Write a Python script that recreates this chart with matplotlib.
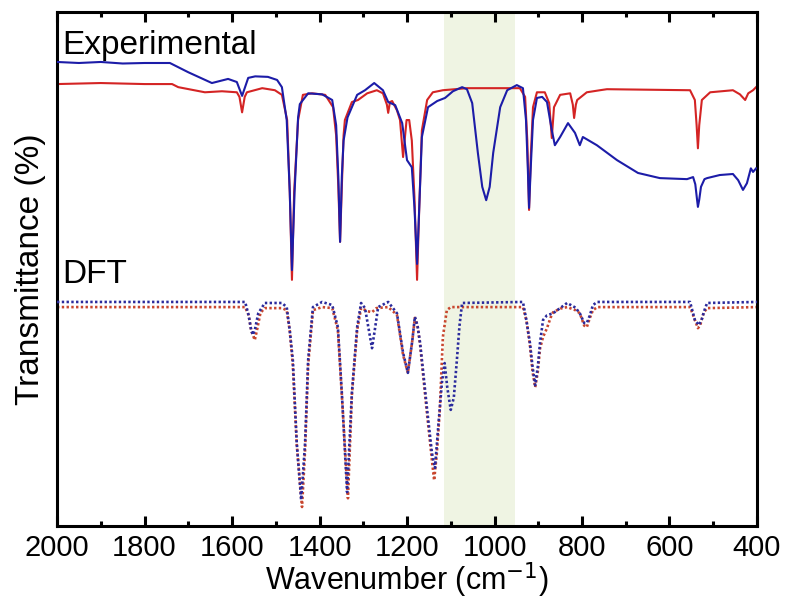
import matplotlib.pyplot as plt
from matplotlib.ticker import MultipleLocator
from matplotlib import font_manager

# experimental spectra (wavenumber, transmittance in arbitrary %)
exp_blue_wn = [2000, 1950, 1900, 1850, 1800, 1742, 1700, 1646, 1609, 1589, 1577, 1563, 1547, 1518, 1497,
               1486, 1475, 1468, 1463, 1457, 1449, 1445, 1426, 1394, 1371, 1362, 1357, 1353, 1349, 1345,
               1336, 1326, 1314, 1296, 1275, 1255, 1243, 1227, 1211, 1200, 1189, 1183, 1177, 1172, 1166,
               1152, 1131, 1113, 1095, 1074, 1063, 1051, 1038, 1028, 1019, 1011, 1003, 987, 971, 949,
               935, 928, 924, 921, 917, 912, 903, 891, 880, 869, 862, 850, 832, 816, 805, 798, 766, 720,
               672, 622, 560, 546, 541, 537, 535, 532, 528, 520, 514, 485, 455, 443, 432, 423, 414, 409, 402]
exp_blue_t = [90.3, 90.1, 90.3, 90.0, 90.1, 90.1, 88.3, 86.2, 87.0, 86.4, 83.7, 87.2, 87.5, 87.4, 86.8,
              85.4, 79.0, 65.0, 49.8, 65.0, 79.5, 82.1, 84.2, 84.0, 82.9, 78.0, 68.0, 55.3, 68.0, 75.0,
              79.5, 81.5, 83.9, 84.8, 86.2, 84.8, 82.5, 81.9, 78.4, 71.2, 69.8, 62.0, 51.0, 62.0, 75.7,
              81.5, 82.7, 83.3, 84.6, 85.4, 85.0, 82.3, 72.6, 66.0, 63.4, 66.0, 72.6, 81.5, 84.8, 85.8,
              85.2, 79.0, 70.0, 61.9, 70.0, 79.0, 83.3, 83.5, 82.5, 77.0, 74.1, 75.7, 78.4, 76.5, 74.1,
              75.7, 74.1, 71.2, 68.7, 67.7, 67.5, 67.9, 66.5, 63.5, 62.1, 63.5, 66.0, 67.5, 67.7, 68.3,
              68.5, 67.3, 65.4, 66.7, 69.6, 68.9, 69.6]

exp_red_wn = [2000, 1900, 1800, 1737, 1723, 1662, 1623, 1589, 1583, 1577, 1571, 1566, 1531, 1502, 1486,
              1474, 1468, 1463, 1458, 1449, 1438, 1417, 1387, 1369, 1362, 1357, 1353, 1349, 1345, 1342,
              1326, 1312, 1291, 1269, 1255, 1246, 1243, 1239, 1234, 1223, 1216, 1209, 1201, 1195, 1189,
              1183, 1177, 1172, 1166, 1154, 1141, 1118, 1063, 942, 930, 925, 921, 917, 912, 903, 885,
              875, 869, 864, 850, 827, 821, 818, 814, 811, 789, 759, 743, 553, 542, 538, 535, 532, 526,
              507, 455, 439, 427, 420, 409, 402]
exp_red_t = [86.0, 86.2, 86.0, 86.0, 85.4, 84.4, 84.6, 84.4, 83.5, 80.5, 83.5, 84.4, 85.2, 84.8, 83.9,
             79.0, 65.0, 47.9, 65.0, 79.0, 83.9, 84.2, 83.9, 81.5, 76.0, 66.0, 55.3, 66.0, 76.0, 79.0,
             82.5, 82.9, 84.2, 84.8, 84.2, 82.0, 80.4, 82.5, 82.7, 80.9, 79.0, 71.8, 79.0, 79.0, 75.0,
             64.0, 47.9, 62.0, 77.0, 82.9, 84.4, 84.8, 85.2, 85.2, 83.5, 75.0, 61.5, 72.0, 81.5, 84.4, 84.4,
             82.3, 75.5, 81.5, 83.9, 84.2, 82.0, 79.4, 82.0, 82.9, 84.4, 84.8, 85.0, 84.8, 82.9, 78.0, 73.5,
             78.0, 82.9, 84.4, 84.8, 84.0, 82.9, 84.2, 84.8, 85.4]

# DFT spectra
dft_blue_wn = [2000, 1570, 1562, 1556, 1552, 1547, 1540, 1525, 1486, 1475, 1468, 1461, 1452, 1442, 1433,
               1426, 1415, 1394, 1371, 1358, 1349, 1337, 1326, 1314, 1305, 1296, 1288, 1280, 1273, 1266,
               1243, 1223, 1209, 1198, 1188, 1182, 1176, 1170, 1154, 1143, 1136, 1128, 1120, 1114, 1108,
               1100, 1093, 1086, 1080, 1074, 935, 927, 919, 913, 907, 901, 896, 889, 880, 866, 834, 815,
               805, 795, 789, 782, 775, 765, 553, 548, 542, 533, 527, 520, 514, 400]
dft_blue_t = [43.6, 43.6, 41.0, 38.0, 37.2, 38.5, 41.4, 43.4, 43.4, 42.6, 38.0, 32.3, 16.1, 5.1, 16.1,
              32.3, 42.6, 43.6, 43.0, 38.7, 25.9, 6.6, 25.9, 38.7, 43.4, 42.4, 38.5, 34.6, 38.5, 42.6,
              43.6, 41.4, 33.7, 29.8, 36.0, 40.7, 39.0, 35.6, 22.6, 14.2, 11.3, 20.0, 28.0, 31.7, 27.0,
              22.6, 25.0, 32.3, 39.0, 43.4, 43.6, 40.0, 35.6, 31.0, 27.4, 31.0, 35.6, 40.1, 41.0, 41.4,
              43.4, 42.5, 41.4, 39.5, 39.5, 41.0, 43.0, 43.6, 43.6, 42.0, 40.1, 39.1, 40.0, 42.0, 43.4, 43.6]

dft_red_wn = [2000, 1570, 1562, 1556, 1548, 1542, 1535, 1525, 1486, 1475, 1468, 1461, 1452, 1440, 1433,
              1426, 1415, 1394, 1371, 1358, 1349, 1335, 1326, 1314, 1305, 1290, 1280, 1270, 1243, 1223,
              1209, 1198, 1188, 1182, 1176, 1170, 1154, 1143, 1138, 1132, 1125, 1118, 1109, 1100, 935,
              927, 919, 913, 907, 901, 896, 889, 880, 872, 866, 850, 834, 815, 805, 795, 789, 782, 775,
              765, 553, 548, 542, 535, 530, 522, 514, 400]
dft_red_t = [42.6, 42.6, 41.0, 38.0, 36.2, 38.5, 41.5, 42.4, 42.4, 42.0, 38.0, 31.3, 15.8, 3.7, 14.8,
             31.3, 42.0, 42.6, 42.4, 38.1, 25.5, 5.4, 25.5, 38.1, 42.4, 41.8, 41.6, 42.4, 42.6, 41.1,
             33.3, 29.8, 36.0, 40.5, 39.0, 35.2, 21.6, 12.8, 8.9, 14.0, 22.6, 36.8, 42.0, 42.6, 42.6,
             40.0, 35.2, 30.0, 27.0, 30.0, 34.5, 36.8, 38.5, 40.5, 41.6, 42.3, 42.6, 42.0, 41.4, 39.0,
             38.7, 40.5, 42.0, 42.6, 42.6, 41.5, 40.1, 38.5, 39.0, 41.5, 42.4, 42.6]

band = (1115, 952)

names = [f.name for f in font_manager.fontManager.ttflist]
narrow = 'Liberation Sans Narrow' if 'Liberation Sans Narrow' in names else 'Liberation Sans'

fig = plt.figure(figsize=(7.9, 6.06), dpi=100)
ax = fig.add_axes([0.0722, 0.132, 0.886, 0.848])

ax.axvspan(band[0], band[1], color='#eff4e3', lw=0, zorder=0)

ax.plot(exp_blue_wn, exp_blue_t, color='#1c1ca8', lw=1.5, zorder=3)
ax.plot(exp_red_wn, exp_red_t, color='#d42424', lw=1.5, zorder=2)
ax.plot(dft_red_wn, dft_red_t, color='#c8462e', lw=1.9, linestyle=(0, (0.9, 0.9)), zorder=2)
ax.plot(dft_blue_wn, dft_blue_t, color='#2a2a9c', lw=1.9, linestyle=(0, (0.9, 0.9)), zorder=3)

ax.set_xlim(2000, 400)
ax.set_ylim(0, 100)
ax.set_yticks([])
ax.xaxis.set_major_locator(MultipleLocator(200))
ax.xaxis.set_minor_locator(MultipleLocator(100))
ax.tick_params(axis='x', which='major', direction='in', length=7, width=2.2, top=True,
               labelsize=21, pad=6)
ax.tick_params(axis='x', which='minor', direction='in', length=3.5, width=2.2, top=True)
for lab in ax.get_xticklabels():
    lab.set_fontfamily(narrow)
for s in ax.spines.values():
    s.set_linewidth(2.2)

ax.set_xlabel('Wavenumber (cm$^{-1}$)', fontsize=22, family=narrow, labelpad=-1)
ax.set_ylabel('Transmittance (%)', fontsize=24, family='Liberation Sans', labelpad=8)

ax.text(0.008, 0.965, 'Experimental', transform=ax.transAxes, fontsize=24,
        family='Liberation Sans', va='top', ha='left')
ax.text(0.008, 0.52, 'DFT', transform=ax.transAxes, fontsize=24,
        family='Liberation Sans', va='top', ha='left')

fig.savefig('out.png', dpi=100)
